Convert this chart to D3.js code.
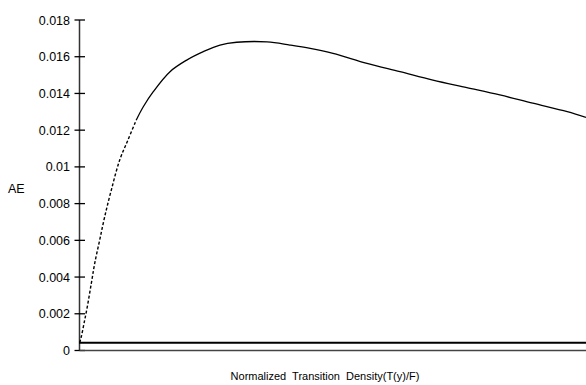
<!DOCTYPE html>
<html><head><meta charset="utf-8">
<script src="https://cdn.jsdelivr.net/npm/d3@7"></script>
<style>body{margin:0;background:#fff}svg{display:block}text{font-family:"Liberation Sans",Arial,sans-serif;fill:#000}</style>
</head><body><svg id="c" width="586" height="385"></svg>
<script>
// Normalized x positions (0..1) along the x axis, and AE values
const curveX = [0.0014, 0.0045, 0.0099, 0.0164, 0.0243, 0.031, 0.0408, 0.0507, 0.0637, 0.0803, 0.0966, 0.113, 0.1268, 0.1465, 0.1795, 0.2124, 0.2452, 0.2781, 0.311, 0.371, 0.416, 0.456, 0.501, 0.568, 0.633, 0.698, 0.765, 0.83, 0.895, 0.963, 1.0];
const curveY = [0.0004, 0.00072, 0.00145, 0.00236, 0.00363, 0.00472, 0.00599, 0.00726, 0.00871, 0.01035, 0.01144, 0.01253, 0.01325, 0.01407, 0.01516, 0.01579, 0.01625, 0.01661, 0.01676, 0.01678, 0.01661, 0.01643, 0.01616, 0.01561, 0.01516, 0.0147, 0.01429, 0.01389, 0.01344, 0.01298, 0.01267];
const baselineValue = 0.0004;
const yTicks = [0, 0.002, 0.004, 0.006, 0.008, 0.01, 0.012, 0.014, 0.016, 0.018];
const yTickLabels = ["0", "0.002", "0.004", "0.006", "0.008", "0.01", "0.012", "0.014", "0.016", "0.018"];
const xLabel = "Normalized Transition Density(T(y)/F)";
const yLabel = "AE";

const svg = d3.select("#c");
const x = d3.scaleLinear().domain([0, 1]).range([79, 586]);
const y = d3.scaleLinear().domain([0, 0.018]).range([350, 19.5]);

// y axis
const yAxis = d3.axisLeft(y).tickValues(yTicks).tickFormat((d, i) => yTickLabels[i]).tickSizeInner(5).tickSizeOuter(0).tickPadding(5);
const gy = svg.append("g").attr("transform", "translate(79,0)").call(yAxis);
gy.select(".domain").attr("stroke", "#333").attr("stroke-width", 1.5);
gy.selectAll(".tick line").attr("x1", -4.5).attr("x2", 6).attr("stroke", "#000").attr("stroke-width", 1.3);
gy.selectAll(".tick text").style("font-size", "12.5px").attr("x", -9).attr("dy", "0.36em").style("font-family", "Liberation Sans, Arial, sans-serif");

// x axis line
const gx = svg.append("g").attr("transform", "translate(0,350)").call(d3.axisBottom(x).tickValues([]).tickSizeOuter(0));
gx.select(".domain").attr("stroke", "#444").attr("stroke-width", 1.5);

// baseline series
svg.append("path").datum([0, 1]).attr("fill", "none").attr("stroke", "#000").attr("stroke-width", 2)
  .attr("d", d3.line().x(d => x(d)).y(() => y(baselineValue)));

// AE curve
const pts = curveX.map((d, i) => [d, curveY[i]]);
const line = d3.line().x(d => x(d[0])).y(d => y(d[1])).curve(d3.curveCatmullRom.alpha(0.5));
const split = 11;
svg.append("path").datum(pts.slice(0, split + 1)).attr("fill", "none").attr("stroke", "#000")
  .attr("stroke-width", 1.4).attr("stroke-dasharray", "3,2").attr("d", line);
svg.append("path").datum(pts.slice(split)).attr("fill", "none").attr("stroke", "#000")
  .attr("stroke-width", 1.3).attr("d", line);

// labels
svg.append("text").attr("x", 8).attr("y", 193).style("font-size", "12.5px").text(yLabel);
svg.append("text").attr("x", 325).attr("y", 380).attr("text-anchor", "middle").style("font-size", "11px").style("word-spacing", "3px").text(xLabel);
</script></body></html>
